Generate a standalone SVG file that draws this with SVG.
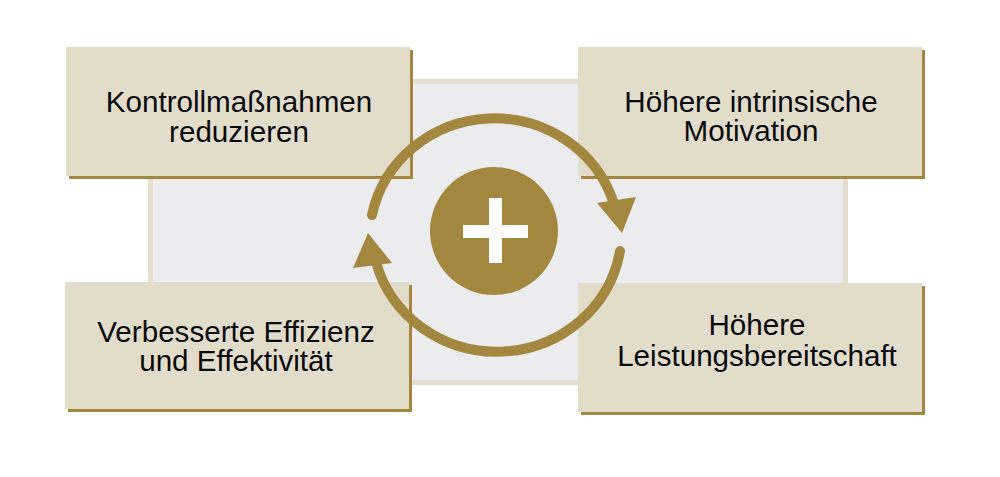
<svg xmlns="http://www.w3.org/2000/svg" width="1000" height="477" viewBox="0 0 1000 477">
<defs>
<style>
.box{fill:#e4dccb}
.shadow{fill:#a4873f}
.lbl{font-family:"Liberation Sans",Arial,sans-serif;font-size:29.6px;fill:#0a0a0a;text-anchor:middle}
.arc{fill:none;stroke:#a4873f;stroke-width:10;stroke-linecap:round}
.head{fill:#a4873f}
</style>
</defs>
<rect width="1000" height="477" fill="#ffffff"/>
<rect id="backdrop" x="150.5" y="81.5" width="695" height="301" fill="#ececee" stroke="#e5dfd0" stroke-width="5"/>
<g id="node-kontroll">
<rect class="shadow" x="69" y="50" width="344" height="129"/>
<rect class="box" x="66" y="47" width="344" height="129"/>
<text class="lbl" x="239" y="112">Kontrollmaßnahmen</text>
<text class="lbl" x="239" y="142">reduzieren</text>
</g>
<g id="node-motivation">
<rect class="shadow" x="581" y="50" width="344" height="129"/>
<rect class="box" x="578" y="47" width="344" height="129"/>
<text class="lbl" x="751" y="112">Höhere intrinsische</text>
<text class="lbl" x="751" y="141">Motivation</text>
</g>
<g id="node-effizienz">
<rect class="shadow" x="68" y="285" width="344" height="127"/>
<rect class="box" x="65" y="282" width="344" height="127"/>
<text class="lbl" x="236" y="342">Verbesserte Effizienz</text>
<text class="lbl" x="236" y="371">und Effektivität</text>
</g>
<g id="node-leistung">
<rect class="shadow" x="581" y="286" width="344" height="129"/>
<rect class="box" x="578" y="283" width="344" height="129"/>
<text class="lbl" x="757" y="335">Höhere</text>
<text class="lbl" x="757" y="366">Leistungsbereitschaft</text>
</g>
<g id="connectors">
<path class="arc" d="M372,215 A125,121 0 0 1 614,204"/>
<polygon class="head" points="597,203 636,197 622,233"/>
<path class="arc" d="M620,251 A125,121 0 0 1 376,262"/>
<polygon class="head" points="353,268 392,263 368,233"/>
</g>
<g id="node-center">
<circle cx="494" cy="231" r="64" fill="#a4873f"/>
<rect x="463" y="225" width="65" height="13" fill="#ffffff"/>
<rect x="489" y="198" width="13" height="65" fill="#ffffff"/>
</g>
</svg>
